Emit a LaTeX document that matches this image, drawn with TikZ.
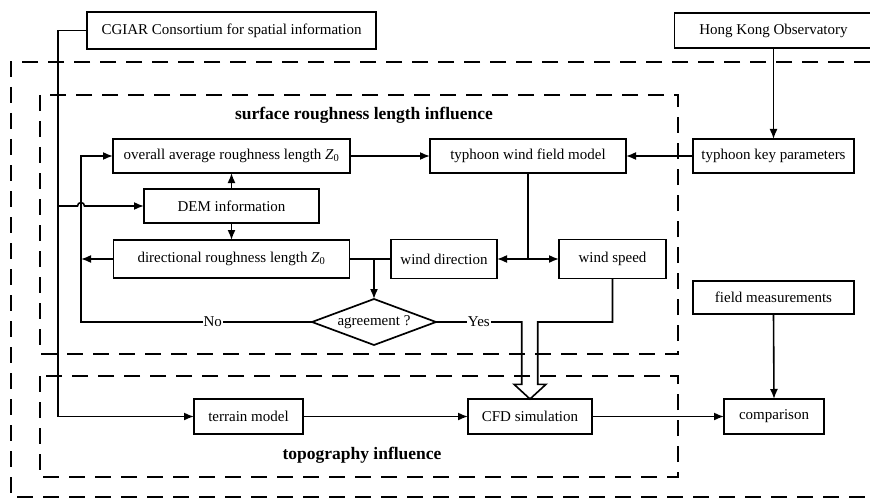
\documentclass[tikz,border=0pt]{standalone}
\usepackage{fontspec}
\setmainfont{Liberation Serif}
\usetikzlibrary{positioning,calc,arrows.meta,shapes.geometric}

\begin{document}
\begin{tikzpicture}[x=1pt,y=-1pt,
   block/.style = {draw, line width=1.7pt, minimum height=35pt, inner sep=2pt,
      outer sep=0pt, font=\fontsize{15}{18}\selectfont},
   decision/.style = {draw, diamond, line width=1.7pt, aspect=2.7, inner sep=0pt,
      outer sep=0pt, minimum width=124pt, minimum height=46pt,
      font=\fontsize{15}{18}\selectfont},
   link/.style = {line width=1.6pt},
   flow/.style = {link, -{Latex[length=10pt,width=8pt]}},
   region/.style = {line width=1.8pt, dash pattern=on 16pt off 10pt},
   heading/.style = {font=\fontsize{17.5}{20}\selectfont\bfseries},
   answer/.style = {fill=white, inner sep=1pt, font=\fontsize{15}{18}\selectfont}]

   \path[use as bounding box, clip] (0,0) rectangle (870,500);

   % dashed frames
   \draw[region] (870,62) -| (11,497) -- (870,497);
   \draw[region] (40,95) rectangle (678,354);
   \draw[region] (40,376) rectangle (678,477);

   % sources
   \node[block, minimum width=289pt, minimum height=37pt] (cgiar) at (231.5,30.5)
      {CGIAR Consortium for spatial information};
   \node[block, minimum width=198pt] (hko) at (773.5,30.5) {Hong Kong Observatory};

   % roughness part
   \node[heading] (srl) at (364,115) {surface roughness length influence};
   \node[block, minimum width=237pt, minimum height=34pt] (overall) at (231.5,156)
      {overall average roughness length \textit{Z}\textsubscript{0}};
   \node[block, minimum width=175pt, minimum height=34pt, below=16pt of overall] (dem)
      {DEM information};
   \node[block, minimum width=236pt, minimum height=38pt, below=17pt of dem] (dirz)
      {directional roughness length \textit{Z}\textsubscript{0}};
   \node[block, minimum width=196pt, minimum height=34pt] (wfm) at (528,156)
      {typhoon wind field model};
   \node[block, minimum width=161pt, minimum height=34pt, right=67pt of wfm] (tkp)
      {typhoon key parameters};
   \node[block, minimum width=106pt, minimum height=39pt] (wdir) at (444,259)
      {wind direction};
   \node[block, minimum width=107pt, minimum height=39pt, right=62pt of wdir] (wspeed)
      {wind speed};
   \node[decision] (agree) at (374,322) {agreement ?};
   \node[block, minimum width=161pt, minimum height=33pt] (fieldm) at (773.5,297.5)
      {field measurements};

   % topography part
   \node[heading] (topo) at (362,455) {topography influence};
   \node[block, minimum width=109pt] (terrain) at (248.5,416.5) {terrain model};
   \node[block, minimum width=124pt] (cfd) at (530,416.5) {CFD simulation};
   \node[block, minimum width=100pt, right=132pt of cfd] (comp) {comparison};

   % connectors
   \coordinate (trunk) at (58,30.5);
   \coordinate (back) at (81,322);
   \draw[flow] (cgiar.west) -- (trunk) |- (terrain.west);
   \draw[flow] (trunk |- dem.west) -- ([xshift=-3.5pt]back |- dem.west)
      arc[start angle=180, end angle=0, radius=3.5pt] -- (dem.west);
   \draw[flow] (agree.west) -- node[answer, pos=0.43] {No} (back) |- (overall.west);
   \draw[flow] (dirz.west) -- (back |- dirz.west);
   \draw[flow] (dem.north) -- (overall.south);
   \draw[flow] (dem.south) -- (dirz.north);
   \draw[flow] (overall.east) -- (wfm.west);
   \draw[flow] (tkp.west) -- (wfm.east);
   \draw[flow] (hko.south) -- (tkp.north);
   \draw[link] (dirz.east) -- (wdir.west);
   \draw[flow] (dirz.east -| agree.north) -- (agree.north);
   \coordinate (split) at (wfm.south |- wdir.east);
   \draw[link] (wfm.south) -- (split);
   \draw[flow] (split) -- (wdir.east);
   \draw[flow] (split) -- (wspeed.west);
   % hollow arrow into CFD
   \draw[link, line join=miter] (agree.east) -- node[answer] {Yes} (521.7,322)
      -- (521.7,384.3) -- (514,384.3) -- (cfd.north) -- (546,384.3) -- (537.7,384.3)
      -- (537.7,322) -- (wspeed.south |- agree.east) -- (wspeed.south);
   \draw[flow] (terrain.east) -- (cfd.west);
   \draw[flow] (cfd.east) -- (comp.west);
   \draw[flow] (fieldm.south) -- (comp.north);
\end{tikzpicture}
\end{document}
